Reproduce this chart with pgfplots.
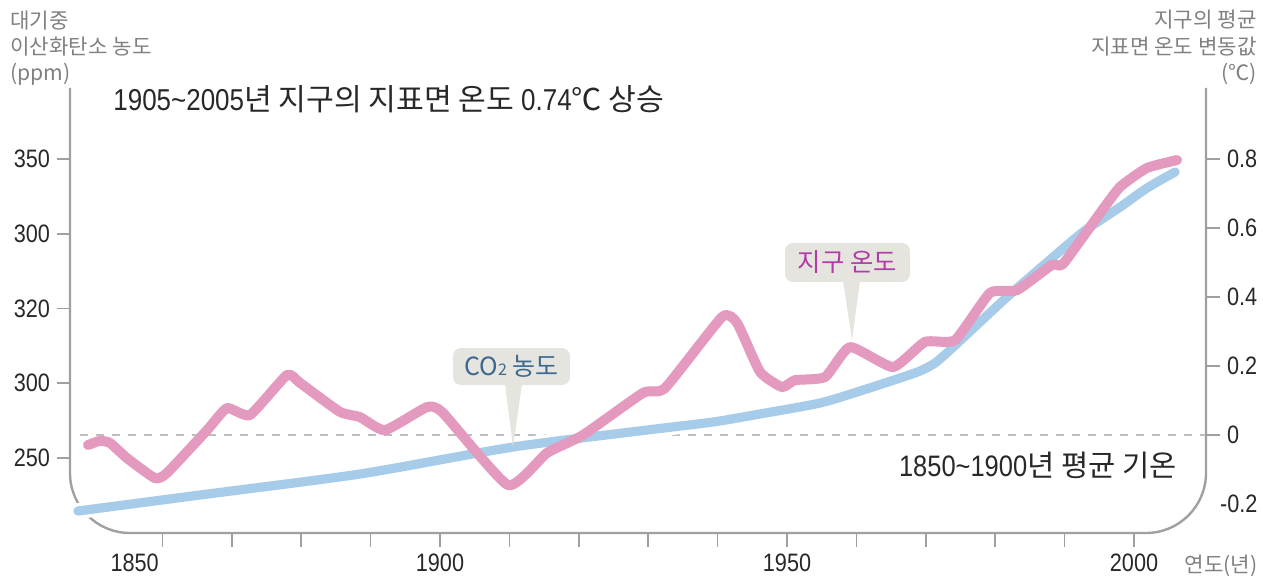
\documentclass[border=0pt]{standalone}
\usepackage{fontspec}
\usepackage{pgfplots}
\pgfplotsset{compat=1.18}
\setmainfont{Noto Sans CJK KR}
\newfontfamily\numfont[FakeStretch=0.86]{Liberation Sans}
\definecolor{pinkline}{RGB}{228,154,190}
\definecolor{blueline}{RGB}{166,204,234}
\definecolor{framegray}{RGB}{160,160,160}
\definecolor{dashgray}{RGB}{190,190,190}
\definecolor{labelcol}{RGB}{40,40,40}
\definecolor{titlegray}{RGB}{128,128,128}
\definecolor{callfill}{RGB}{230,228,222}
\definecolor{co2col}{RGB}{60,105,145}
\definecolor{tempcol}{RGB}{176,60,168}

\pgfplotstableread{
year temp
1849.28 -0.029
1851.0 -0.017
1852.45 -0.023
1854.9 -0.067
1858.93 -0.125
1860.66 -0.110
1866.43 0.014
1869.31 0.078
1872.62 0.058
1877.95 0.174
1879.83 0.151
1885.59 0.067
1888.47 0.052
1892.07 0.014
1898.13 0.081
1900.43 0.064
1909.80 -0.145
1915.42 -0.052
1920.61 0.000
1929.25 0.122
1932.42 0.136
1940.63 0.342
1942.80 0.325
1946.11 0.183
1949.28 0.139
1951.15 0.159
1955.48 0.168
1959.08 0.255
1965.27 0.197
1969.88 0.270
1974.21 0.275
1979.25 0.412
1983.14 0.420
1988.18 0.493
1989.77 0.496
1995.10 0.643
1997.98 0.719
2001.87 0.774
2006.20 0.797
}\temptable

\pgfplotstableread{
year co2
1847.84 232.27
1865.42 237.63
1888.47 244.65
1910.52 253.68
1929.83 259.36
1939.34 262.04
1946.10 264.72
1954.76 268.39
1960.52 272.40
1966.28 276.75
1969.16 279.10
1971.33 281.77
1973.49 286.12
1975.65 290.80
1981.70 303.85
1987.18 314.88
1992.65 325.59
1997.98 333.90
2001.87 340.30
2005.91 345.65
}\cotable

\begin{document}
\begin{tikzpicture}
\path[use as bounding box] (0,0) rectangle (631.5pt,289.5pt);
% pixel-coordinate scope for frame and dashed baseline
\begin{scope}[x=0.5pt,y=-0.5pt,shift={(0pt,289.5pt)}]
\draw[framegray, line width=1.2pt, rounded corners=30pt] (70,88) -- (70,533) -- (1206,533) -- (1206,88);
\draw[dashgray, line width=0.6pt, dash pattern=on 4pt off 4pt] (80,435) -- (1205,435);
\end{scope}

% CO2 axis (left)
\begin{axis}[
  at={(35pt,23pt)}, anchor=south west, scale only axis,
  width=568pt, height=222.5pt,
  xmin=1846.69, xmax=2010.37, ymin=224.92, ymax=373.75,
  axis x line=none, axis y line*=left,
  axis line style={draw=none},
  tick align=outside, major tick length=6.5pt,
  tick style={draw=framegray, line width=0.8pt},
  ytick={250,275,300,325,350},
  yticklabels={250,300,320,300,350},
  tick label style={font=\numfont\fontsize{12.6}{13}\selectfont, text=labelcol},
  clip=false,
]
\addplot[white, line width=8pt, line cap=round, smooth, tension=0.4] table[x=year,y=co2] {\cotable};
\addplot[blueline, line width=4.6pt, line cap=round, smooth, tension=0.4] table[x=year,y=co2] {\cotable};
\end{axis}

% temperature axis (right)
\begin{axis}[
  at={(35pt,23pt)}, anchor=south west, scale only axis,
  width=568pt, height=222.5pt,
  xmin=1846.69, xmax=2010.37, ymin=-0.284, ymax=1.0058,
  axis x line*=bottom, axis y line*=right,
  axis line style={draw=none},
  tick align=outside, major tick length=7pt,
  tick style={draw=framegray, line width=0.8pt},
  xtick={1860,1870,...,2000},
  xticklabels={,,,,1900,,,,,1950,,,,,2000},
  extra x ticks={1856}, extra x tick labels={1850},
  extra x tick style={tick style={draw=none}},
  ytick={0,0.2,0.4,0.6,0.8},
  yticklabels={0,0.2,0.4,0.6,0.8},
  extra y ticks={-0.2}, extra y tick labels={-0.2},
  extra y tick style={major tick length=3.5pt, tick style={draw=none}},
  tick label style={font=\numfont\fontsize{12.6}{13}\selectfont, text=labelcol},
  clip=false,
]
\addplot[pinkline, line width=5pt, line cap=round, line join=round, smooth, tension=0.3] table[x=year,y=temp] {\temptable};
\end{axis}

\begin{scope}[x=0.5pt,y=-0.5pt,shift={(0pt,289.5pt)}]
% callouts
\fill[callfill, rounded corners=4pt] (453,348) rectangle (570,385);
\fill[callfill] (505,384) -- (513,447) -- (522,384) -- cycle;
\node[text=co2col, font=\fontsize{12.5}{13}\selectfont, inner sep=0pt] at (511.5,366.5) {CO{\fontsize{8}{8}\selectfont 2} 농도};
\fill[callfill, rounded corners=4pt] (785,243) rectangle (910,282);
\fill[callfill] (843,281) -- (852,340) -- (860,281) -- cycle;
\node[text=tempcol, font=\fontsize{12.7}{13}\selectfont, inner sep=0pt] at (847.5,262.5) {지구 온도};
% texts
\node[anchor=base west, inner sep=0pt, text=labelcol, font=\fontsize{15.1}{15}\selectfont] at (113,111) {{\numfont 1905\textasciitilde 2005}년 지구의 지표면 온도 {\numfont 0.74}℃ 상승};
\node[anchor=base east, inner sep=0pt, text=labelcol, font=\fontsize{14.8}{15}\selectfont] at (1177,476) {{\numfont 1850\textasciitilde 1900}년 평균 기온};
\node[anchor=base west, inner sep=0pt, text=titlegray, font=\fontsize{10.6}{11}\selectfont] at (10,29) {대기중};
\node[anchor=base west, inner sep=0pt, text=titlegray, font=\fontsize{10.6}{11}\selectfont] at (10,55) {이산화탄소 농도};
\node[anchor=base west, inner sep=0pt, text=titlegray, font=\fontsize{10.6}{11}\selectfont] at (10,81) {(ppm)};
\node[anchor=base east, inner sep=0pt, text=titlegray, font=\fontsize{10.6}{11}\selectfont] at (1257,28) {지구의 평균};
\node[anchor=base east, inner sep=0pt, text=titlegray, font=\fontsize{10.6}{11}\selectfont] at (1257,55) {지표면 온도 변동값};
\node[anchor=base east, inner sep=0pt, text=titlegray, font=\fontsize{10.6}{11}\selectfont] at (1257,81) {(℃)};
\node[anchor=base east, inner sep=0pt, text=titlegray, font=\fontsize{10.6}{11}\selectfont] at (1258,572) {연도(년)};
\end{scope}
\end{tikzpicture}
\end{document}
